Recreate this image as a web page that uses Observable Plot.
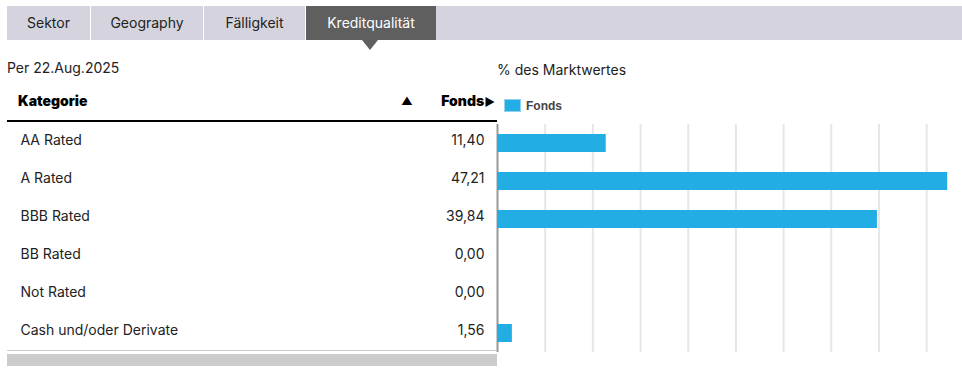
<!DOCTYPE html>
<html>
<head>
<meta charset="utf-8">
<script src="https://cdn.jsdelivr.net/npm/d3@7"></script>
<script src="https://cdn.jsdelivr.net/npm/@observablehq/plot@0.6"></script>
<style>
  body { margin: 0; background: #fff; font-family: Inter, "Noto Sans", sans-serif; color: #222; }
  #wrap { position: relative; width: 962px; height: 369px; overflow: hidden; background: #fff; }
  .abs { position: absolute; }
  .t14 { font-size: 14px; line-height: 20px; white-space: nowrap; }
  #tabs { left: 7px; top: 6px; width: 955px; height: 34px; background: #d5d4de; display: flex; }
  .tab { height: 34px; line-height: 34px; text-align: center; font-size: 14px; color: #222; border-right: 1px solid #fff; box-sizing: border-box; }
  .tab.active { background: #5f5f5f; color: #fff; border-right: none; }
  #pointer { left: 362px; top: 40px; width: 0; height: 0; border-left: 8px solid transparent; border-right: 8px solid transparent; border-top: 10px solid #5f5f5f; }
  .hdr { font-weight: 900; color: #000; }
</style>
</head>
<body>
<div id="wrap"></div>
<script>
const tabs = ["Sektor", "Geography", "Fälligkeit", "Kreditqualität"];
const activeTab = "Kreditqualität";
const asOf = "Per 22.Aug.2025";
const axisTitle = "% des Marktwertes";
const seriesName = "Fonds";
const categories = ["AA Rated", "A Rated", "BBB Rated", "BB Rated", "Not Rated", "Cash und/oder Derivate"];
const fonds = [11.40, 47.21, 39.84, 0.00, 0.00, 1.56];
const gridTicks = [5, 10, 15, 20, 25, 30, 35, 40, 45];

const fmt = v => v.toLocaleString("de-DE", { minimumFractionDigits: 2, maximumFractionDigits: 2 });
const data = categories.map((c, i) => ({ kategorie: c, fonds: fonds[i] }));
const barColor = "#22aee4";
const font = "Inter, 'Noto Sans', sans-serif";

const wrap = document.getElementById("wrap");

const chart = Plot.plot({
  width: 962,
  height: 369,
  marginLeft: 497,
  marginRight: 12,
  marginTop: 124,
  marginBottom: 17,
  style: { background: "transparent", fontFamily: font, fontSize: "14px", color: "#222", overflow: "visible" },
  x: { domain: [0, 47.5], axis: null },
  y: { domain: categories, axis: null, paddingInner: 0.526, paddingOuter: 0.263 },
  marks: [
    Plot.ruleX(gridTicks, { stroke: "#e6e6e6", strokeWidth: 2 }),
    Plot.ruleX([0], { stroke: "#999", strokeWidth: 2 }),
    Plot.barX(data, { x: "fonds", y: "kategorie", fill: barColor }),
    Plot.text(data, { y: "kategorie", text: "kategorie", frameAnchor: "left", dx: -477, dy: -3, textAnchor: "start", fill: "#222", fontSize: 14 }),
    Plot.text(data, { y: "kategorie", text: d => fmt(d.fonds), frameAnchor: "left", dx: -13, dy: -3, textAnchor: "end", fill: "#222", fontSize: 14 })
  ]
});
chart.style.position = "absolute";
chart.style.left = "0px";
chart.style.top = "0px";
wrap.appendChild(chart);

function el(cls, style, text) {
  const d = document.createElement("div");
  d.className = cls;
  Object.assign(d.style, style);
  if (text != null) d.textContent = text;
  wrap.appendChild(d);
  return d;
}

// Tabs
const tabBar = el("abs", {}, null);
tabBar.id = "tabs";
const tabWidths = [84, 113, 102, 130];
tabs.forEach((t, i) => {
  const d = document.createElement("div");
  d.className = "tab" + (t === activeTab ? " active" : "");
  d.style.width = tabWidths[i] + "px";
  d.textContent = t;
  tabBar.appendChild(d);
});
el("abs", {}, null).id = "pointer";

// Titles
el("abs t14", { left: "7px", top: "58px" }, asOf);
el("abs t14", { left: "497px", top: "60px" }, axisTitle);

// Table header
el("abs t14 hdr", { left: "18px", top: "91px" }, "Kategorie");
el("abs t14 hdr", { left: "401px", top: "91px", fontSize: "11px" }, "▲");
const fh = el("abs t14 hdr", { right: "467px", top: "91px" }, seriesName);
const arrow = document.createElement("span");
arrow.style.fontSize = "11px";
arrow.textContent = "▶";
fh.appendChild(arrow);
el("abs", { left: "7px", top: "120px", width: "490px", height: "2px", background: "#000" });
el("abs", { left: "7px", top: "350px", width: "490px", height: "1px", background: "#ccc" });
el("abs", { left: "7px", top: "354px", width: "490px", height: "12px", background: "#ccc" });

// Legend
el("abs", { left: "504px", top: "99px", width: "17px", height: "13px", background: barColor, boxSizing: "border-box", border: "1px solid #8fd3ef" });
el("abs", { left: "526px", top: "99px", fontFamily: "'Liberation Sans', Arial, sans-serif", fontWeight: "bold", fontSize: "12px", lineHeight: "15px", color: "#444" }, seriesName);
</script>
</body>
</html>
